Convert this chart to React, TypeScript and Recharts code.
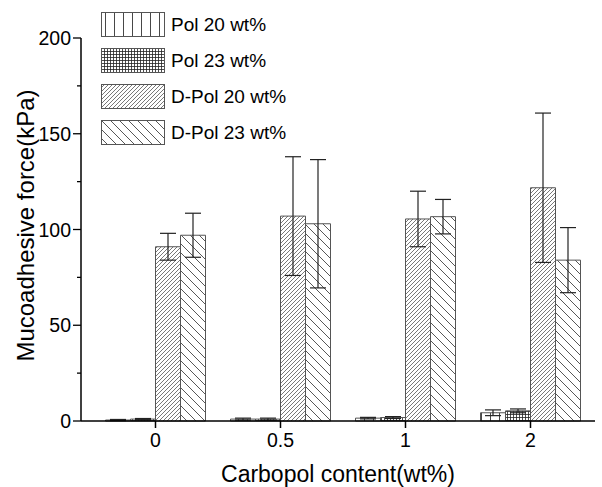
import React from 'react';
import { BarChart, Bar, XAxis, YAxis, ErrorBar, Legend } from 'recharts';

// Carbopol content categories (x axis)
const categories = ['0', '0.5', '1', '2'];

// series means and symmetric errors (kPa)
const pol20 = [0.5, 1, 1.5, 4.3];
const pol20Err = [0.3, 0.5, 0.4, 1.5];
const pol23 = [1, 1, 1.8, 5.3];
const pol23Err = [0.3, 0.5, 0.5, 1];
const dpol20 = [91, 107, 105.5, 121.8];
const dpol20Err = [7, 31, 14.5, 39];
const dpol23 = [97, 103, 106.7, 84];
const dpol23Err = [11.5, 33.5, 9, 17];

const yTicks = [0, 25, 50, 75, 100, 125, 150, 175, 200];

const seriesNames = ['Pol 20 wt%', 'Pol 23 wt%', 'D-Pol 20 wt%', 'D-Pol 23 wt%'];
const seriesKeys = ['pol20', 'pol23', 'dpol20', 'dpol23'];
const patternIds = ['patV', 'patGrid', 'patFwd', 'patBack'];

const data = categories.map((c, i) => ({
  cat: c,
  pol20: pol20[i],
  pol20Err: pol20Err[i],
  pol23: pol23[i],
  pol23Err: pol23Err[i],
  dpol20: dpol20[i],
  dpol20Err: dpol20Err[i],
  dpol23: dpol23[i],
  dpol23Err: dpol23Err[i],
}));

const FONT = 'Arial, "Liberation Sans", sans-serif';

function YTick(props: any) {
  const { x, y, payload } = props;
  const major = payload.value % 50 === 0;
  return (
    <g>
      <line x1={x - (major ? 8 : 4)} x2={x} y1={y} y2={y} stroke="#000" strokeWidth={1.3} />
      {major && (
        <text x={x - 10} y={y} dy="0.36em" textAnchor="end" fontSize={19.5} fontFamily={FONT} fill="#000">
          {payload.value}
        </text>
      )}
    </g>
  );
}

function YLabel(props: any) {
  const { viewBox } = props;
  const cx = viewBox.x + 25;
  const cy = viewBox.y + viewBox.height / 2 - 4;
  return (
    <text
      x={cx}
      y={cy}
      transform={`rotate(-90 ${cx} ${cy})`}
      textAnchor="middle"
      dominantBaseline="central"
      fontSize={24}
      fontFamily={FONT}
      fill="#000"
    >
      Mucoadhesive force(kPa)
    </text>
  );
}

function LegendBox() {
  return (
    <div style={{ display: 'flex', flexDirection: 'column', gap: 11 }}>
      {seriesNames.map((name, i) => (
        <div key={name} style={{ display: 'flex', alignItems: 'center', height: 25 }}>
          <svg width={64} height={25} style={{ display: 'block' }}>
            <rect x={0.5} y={0.5} width={63} height={24} fill={`url(#${patternIds[i]})`} stroke="#555" strokeWidth={1} />
          </svg>
          <span style={{ marginLeft: 6, fontSize: 19, fontFamily: FONT, color: '#000', lineHeight: '25px' }}>{name}</span>
        </div>
      ))}
    </div>
  );
}

export default function App() {
  return (
    <div style={{ position: 'absolute', left: 0, top: 0, width: 602, height: 487, background: '#fff' }}>
      <BarChart
        width={602}
        height={487}
        data={data}
        margin={{ top: 38, right: 7, left: 0, bottom: 0 }}
        barCategoryGap="10%"
        barGap={0}
      >
        <defs>
          <pattern id="patV" patternUnits="userSpaceOnUse" width={9} height={9}>
            <rect width={9} height={9} fill="#fff" />
            <line x1={4.5} y1={0} x2={4.5} y2={9} stroke="#333" strokeWidth={0.9} />
          </pattern>
          <pattern id="patGrid" patternUnits="userSpaceOnUse" width={3} height={3}>
            <rect width={3} height={3} fill="#fff" />
            <path d="M0,0.5 H3 M0.5,0 V3" stroke="#222" strokeWidth={0.8} />
          </pattern>
          <pattern id="patFwd" patternUnits="userSpaceOnUse" width={4} height={4}>
            <rect width={4} height={4} fill="#fff" />
            <path d="M0,4 L4,0 M-1,1 L1,-1 M3,5 L5,3" stroke="#555" strokeWidth={0.8} />
          </pattern>
          <pattern id="patBack" patternUnits="userSpaceOnUse" width={9} height={9}>
            <rect width={9} height={9} fill="#fff" />
            <path d="M0,0 L9,9 M-1,8 L1,10 M8,-1 L10,1" stroke="#444" strokeWidth={0.9} />
          </pattern>
        </defs>
        <XAxis
          dataKey="cat"
          height={66}
          padding={{ left: 12, right: 2 }}
          tickSize={7}
          tickMargin={5}
          stroke="#000"
          strokeWidth={1.5}
          tick={{ fontSize: 19.5, fill: '#000', fontFamily: FONT }}
          label={{ value: 'Carbopol content(wt%)', position: 'insideBottom', offset: 5, fontSize: 23, fill: '#000', fontFamily: FONT }}
        />
        <YAxis
          width={81}
          domain={[0, 200]}
          ticks={yTicks}
          interval={0}
          tickLine={false}
          tickSize={0}
          tickMargin={0}
          stroke="#000"
          strokeWidth={1.5}
          tick={<YTick />}
          label={<YLabel />}
        />
        <Legend
          layout="vertical"
          align="center"
          verticalAlign="middle"
          wrapperStyle={{ left: 101, top: 12, width: 'auto' }}
          content={() => <LegendBox />}
        />
        {seriesKeys.map((k, i) => (
          <Bar
            key={k}
            dataKey={k}
            name={seriesNames[i]}
            fill={`url(#${patternIds[i]})`}
            stroke="#555"
            strokeWidth={1}
            isAnimationActive={false}
          >
            <ErrorBar dataKey={`${k}Err`} width={8} stroke="#222" strokeWidth={1.2} direction="y" />
          </Bar>
        ))}
      </BarChart>
    </div>
  );
}
